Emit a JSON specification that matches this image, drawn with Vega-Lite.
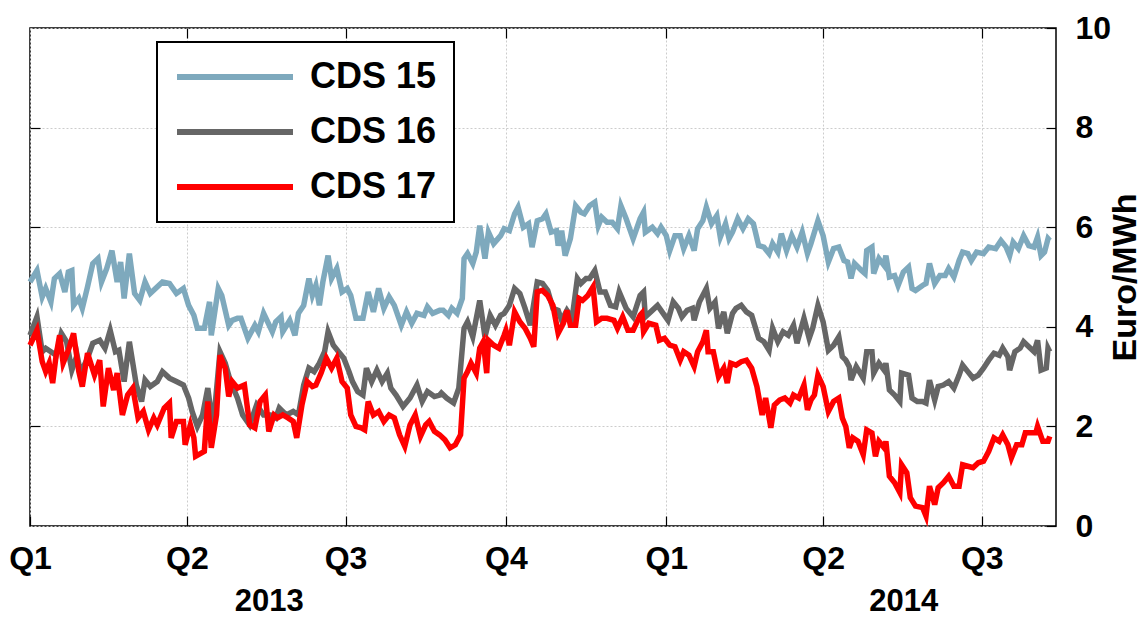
{
  "$schema": "https://vega.github.io/schema/vega-lite/v6.json",
  "width": 1026,
  "height": 498,
  "autosize": {"type": "none"},
  "padding": {"left": 30, "top": 28, "right": 85, "bottom": 93},
  "background": "white",
  "config": {
    "view": {"stroke": "black", "strokeWidth": 1.5},
    "font": "Liberation Sans",
    "legend": {"strokeWidth": 2},
    "axis": {"labelColor": "black", "titleColor": "black", "labelFont": "Liberation Sans", "titleFont": "Liberation Sans", "labelFontWeight": "bold", "titleFontWeight": "bold"}
  },
  "datasets": {
    "cds15": [
      {"date":"2013-01-01","value":4.9},{"date":"2013-01-05","value":5.13},{"date":"2013-01-08","value":4.6},{"date":"2013-01-10","value":4.77},{"date":"2013-01-13","value":4.5},{"date":"2013-01-15","value":4.97},{"date":"2013-01-18","value":5.07},{"date":"2013-01-21","value":4.7},{"date":"2013-01-23","value":5.1},{"date":"2013-01-25","value":5.13},{"date":"2013-01-26","value":4.43},{"date":"2013-01-29","value":4.57},{"date":"2013-01-31","value":4.37},{"date":"2013-02-03","value":4.8},{"date":"2013-02-06","value":5.27},{"date":"2013-02-09","value":5.37},{"date":"2013-02-11","value":4.9},{"date":"2013-02-14","value":5.17},{"date":"2013-02-17","value":5.53},{"date":"2013-02-20","value":4.9},{"date":"2013-02-22","value":5.3},{"date":"2013-02-24","value":4.57},{"date":"2013-02-27","value":5.47},{"date":"2013-03-02","value":4.67},{"date":"2013-03-05","value":4.53},{"date":"2013-03-08","value":4.9},{"date":"2013-03-11","value":4.67},{"date":"2013-03-14","value":4.77},{"date":"2013-03-18","value":4.9},{"date":"2013-03-22","value":4.87},{"date":"2013-03-26","value":4.67},{"date":"2013-03-30","value":4.77},{"date":"2013-04-02","value":4.43},{"date":"2013-04-05","value":4.23},{"date":"2013-04-07","value":3.97},{"date":"2013-04-11","value":3.97},{"date":"2013-04-14","value":4.5},{"date":"2013-04-15","value":3.83},{"date":"2013-04-19","value":4.77},{"date":"2013-04-21","value":4.63},{"date":"2013-04-25","value":4.03},{"date":"2013-04-27","value":4.13},{"date":"2013-04-30","value":4.17},{"date":"2013-05-02","value":4.17},{"date":"2013-05-06","value":3.77},{"date":"2013-05-10","value":4.03},{"date":"2013-05-12","value":3.9},{"date":"2013-05-15","value":4.27},{"date":"2013-05-20","value":3.9},{"date":"2013-05-22","value":4.1},{"date":"2013-05-25","value":4.2},{"date":"2013-05-26","value":3.9},{"date":"2013-05-30","value":4.13},{"date":"2013-06-02","value":3.83},{"date":"2013-06-04","value":4.27},{"date":"2013-06-07","value":4.43},{"date":"2013-06-10","value":4.97},{"date":"2013-06-12","value":4.63},{"date":"2013-06-14","value":4.83},{"date":"2013-06-16","value":4.43},{"date":"2013-06-18","value":4.9},{"date":"2013-06-21","value":5.43},{"date":"2013-06-23","value":4.97},{"date":"2013-06-26","value":5.17},{"date":"2013-06-29","value":4.7},{"date":"2013-07-02","value":4.77},{"date":"2013-07-04","value":4.63},{"date":"2013-07-07","value":4.17},{"date":"2013-07-11","value":4.17},{"date":"2013-07-14","value":4.7},{"date":"2013-07-17","value":4.3},{"date":"2013-07-20","value":4.77},{"date":"2013-07-23","value":4.37},{"date":"2013-07-26","value":4.6},{"date":"2013-07-29","value":4.43},{"date":"2013-08-02","value":4.03},{"date":"2013-08-05","value":4.3},{"date":"2013-08-08","value":4.07},{"date":"2013-08-11","value":4.27},{"date":"2013-08-15","value":4.23},{"date":"2013-08-17","value":4.4},{"date":"2013-08-20","value":4.27},{"date":"2013-08-24","value":4.33},{"date":"2013-08-26","value":4.33},{"date":"2013-08-29","value":4.23},{"date":"2013-08-31","value":4.37},{"date":"2013-09-03","value":4.27},{"date":"2013-09-06","value":4.57},{"date":"2013-09-07","value":5.37},{"date":"2013-09-09","value":5.47},{"date":"2013-09-12","value":5.27},{"date":"2013-09-14","value":5.5},{"date":"2013-09-16","value":6.03},{"date":"2013-09-19","value":5.37},{"date":"2013-09-21","value":5.9},{"date":"2013-09-24","value":5.67},{"date":"2013-09-28","value":5.83},{"date":"2013-09-30","value":5.97},{"date":"2013-10-03","value":5.93},{"date":"2013-10-06","value":6.27},{"date":"2013-10-08","value":6.4},{"date":"2013-10-11","value":6.0},{"date":"2013-10-14","value":6.07},{"date":"2013-10-16","value":5.6},{"date":"2013-10-19","value":6.13},{"date":"2013-10-22","value":6.17},{"date":"2013-10-24","value":6.27},{"date":"2013-10-27","value":5.9},{"date":"2013-10-30","value":5.93},{"date":"2013-10-31","value":5.63},{"date":"2013-11-02","value":5.93},{"date":"2013-11-04","value":5.43},{"date":"2013-11-07","value":5.77},{"date":"2013-11-10","value":6.43},{"date":"2013-11-13","value":6.3},{"date":"2013-11-15","value":6.27},{"date":"2013-11-18","value":6.43},{"date":"2013-11-21","value":6.5},{"date":"2013-11-23","value":6.03},{"date":"2013-11-25","value":6.2},{"date":"2013-11-28","value":6.1},{"date":"2013-12-01","value":6.1},{"date":"2013-12-04","value":5.97},{"date":"2013-12-06","value":6.43},{"date":"2013-12-09","value":6.17},{"date":"2013-12-13","value":5.77},{"date":"2013-12-17","value":6.17},{"date":"2013-12-19","value":6.3},{"date":"2013-12-20","value":5.9},{"date":"2013-12-24","value":6.0},{"date":"2013-12-27","value":5.87},{"date":"2013-12-29","value":6.0},{"date":"2014-01-01","value":5.83},{"date":"2014-01-03","value":5.53},{"date":"2014-01-06","value":5.83},{"date":"2014-01-09","value":5.83},{"date":"2014-01-11","value":5.57},{"date":"2014-01-14","value":5.83},{"date":"2014-01-17","value":5.53},{"date":"2014-01-19","value":5.97},{"date":"2014-01-22","value":6.13},{"date":"2014-01-24","value":6.4},{"date":"2014-01-27","value":6.07},{"date":"2014-01-30","value":6.23},{"date":"2014-02-01","value":5.8},{"date":"2014-02-04","value":6.07},{"date":"2014-02-06","value":5.77},{"date":"2014-02-08","value":5.9},{"date":"2014-02-11","value":6.17},{"date":"2014-02-14","value":5.97},{"date":"2014-02-17","value":6.17},{"date":"2014-02-20","value":6.07},{"date":"2014-02-23","value":5.63},{"date":"2014-02-26","value":5.6},{"date":"2014-03-01","value":5.47},{"date":"2014-03-03","value":5.67},{"date":"2014-03-06","value":5.5},{"date":"2014-03-08","value":5.87},{"date":"2014-03-11","value":5.53},{"date":"2014-03-14","value":5.83},{"date":"2014-03-17","value":5.6},{"date":"2014-03-20","value":5.9},{"date":"2014-03-23","value":5.47},{"date":"2014-03-25","value":5.67},{"date":"2014-03-29","value":6.13},{"date":"2014-04-01","value":5.83},{"date":"2014-04-04","value":5.3},{"date":"2014-04-07","value":5.57},{"date":"2014-04-10","value":5.6},{"date":"2014-04-13","value":5.33},{"date":"2014-04-15","value":5.3},{"date":"2014-04-17","value":4.97},{"date":"2014-04-19","value":5.27},{"date":"2014-04-23","value":5.13},{"date":"2014-04-25","value":5.07},{"date":"2014-04-26","value":5.53},{"date":"2014-04-29","value":5.6},{"date":"2014-04-30","value":5.07},{"date":"2014-05-03","value":5.37},{"date":"2014-05-06","value":5.23},{"date":"2014-05-07","value":5.43},{"date":"2014-05-09","value":5.0},{"date":"2014-05-12","value":5.03},{"date":"2014-05-14","value":4.83},{"date":"2014-05-17","value":5.1},{"date":"2014-05-20","value":5.2},{"date":"2014-05-22","value":4.77},{"date":"2014-05-24","value":4.73},{"date":"2014-05-28","value":4.83},{"date":"2014-05-30","value":4.87},{"date":"2014-06-01","value":5.27},{"date":"2014-06-04","value":4.87},{"date":"2014-06-07","value":5.03},{"date":"2014-06-10","value":5.03},{"date":"2014-06-12","value":5.17},{"date":"2014-06-15","value":5.0},{"date":"2014-06-18","value":5.33},{"date":"2014-06-20","value":5.5},{"date":"2014-06-23","value":5.47},{"date":"2014-06-25","value":5.33},{"date":"2014-06-28","value":5.5},{"date":"2014-07-02","value":5.47},{"date":"2014-07-05","value":5.6},{"date":"2014-07-09","value":5.57},{"date":"2014-07-12","value":5.73},{"date":"2014-07-15","value":5.6},{"date":"2014-07-17","value":5.43},{"date":"2014-07-19","value":5.7},{"date":"2014-07-22","value":5.57},{"date":"2014-07-25","value":5.83},{"date":"2014-07-28","value":5.63},{"date":"2014-07-31","value":5.6},{"date":"2014-08-02","value":5.8},{"date":"2014-08-04","value":5.43},{"date":"2014-08-06","value":5.5},{"date":"2014-08-08","value":5.77},{"date":"2014-08-09","value":5.73}
    ],
    "cds16": [
      {"date":"2013-01-01","value":3.83},{"date":"2013-01-05","value":4.2},{"date":"2013-01-08","value":3.5},{"date":"2013-01-10","value":3.57},{"date":"2013-01-13","value":3.5},{"date":"2013-01-16","value":3.43},{"date":"2013-01-19","value":3.87},{"date":"2013-01-22","value":3.7},{"date":"2013-01-25","value":3.13},{"date":"2013-01-28","value":3.43},{"date":"2013-01-30","value":3.07},{"date":"2013-02-03","value":3.37},{"date":"2013-02-06","value":3.67},{"date":"2013-02-10","value":3.73},{"date":"2013-02-13","value":3.57},{"date":"2013-02-16","value":3.93},{"date":"2013-02-19","value":3.5},{"date":"2013-02-21","value":3.53},{"date":"2013-02-24","value":2.9},{"date":"2013-02-27","value":3.7},{"date":"2013-03-03","value":2.83},{"date":"2013-03-06","value":2.5},{"date":"2013-03-08","value":2.93},{"date":"2013-03-11","value":2.8},{"date":"2013-03-15","value":2.9},{"date":"2013-03-18","value":3.1},{"date":"2013-03-22","value":2.97},{"date":"2013-03-26","value":2.9},{"date":"2013-03-30","value":2.83},{"date":"2013-04-02","value":2.57},{"date":"2013-04-04","value":2.3},{"date":"2013-04-07","value":2.0},{"date":"2013-04-10","value":2.23},{"date":"2013-04-13","value":2.77},{"date":"2013-04-16","value":1.97},{"date":"2013-04-20","value":3.5},{"date":"2013-04-23","value":3.27},{"date":"2013-04-26","value":2.9},{"date":"2013-04-30","value":2.57},{"date":"2013-05-03","value":2.23},{"date":"2013-05-07","value":2.03},{"date":"2013-05-11","value":2.43},{"date":"2013-05-15","value":2.23},{"date":"2013-05-19","value":2.23},{"date":"2013-05-22","value":2.17},{"date":"2013-05-24","value":2.37},{"date":"2013-05-28","value":2.23},{"date":"2013-06-01","value":2.3},{"date":"2013-06-04","value":2.23},{"date":"2013-06-07","value":2.83},{"date":"2013-06-10","value":3.17},{"date":"2013-06-13","value":3.1},{"date":"2013-06-16","value":3.27},{"date":"2013-06-19","value":3.5},{"date":"2013-06-21","value":3.9},{"date":"2013-06-24","value":3.63},{"date":"2013-06-27","value":3.5},{"date":"2013-06-30","value":3.37},{"date":"2013-07-03","value":3.1},{"date":"2013-07-05","value":2.9},{"date":"2013-07-08","value":2.7},{"date":"2013-07-11","value":2.63},{"date":"2013-07-13","value":3.17},{"date":"2013-07-16","value":2.9},{"date":"2013-07-19","value":3.13},{"date":"2013-07-22","value":2.9},{"date":"2013-07-25","value":3.07},{"date":"2013-07-27","value":2.77},{"date":"2013-07-30","value":2.63},{"date":"2013-08-03","value":2.4},{"date":"2013-08-07","value":2.57},{"date":"2013-08-11","value":2.83},{"date":"2013-08-14","value":2.5},{"date":"2013-08-17","value":2.7},{"date":"2013-08-21","value":2.6},{"date":"2013-08-24","value":2.63},{"date":"2013-08-25","value":2.67},{"date":"2013-08-28","value":2.57},{"date":"2013-09-01","value":2.47},{"date":"2013-09-04","value":2.77},{"date":"2013-09-07","value":3.97},{"date":"2013-09-09","value":4.1},{"date":"2013-09-12","value":3.8},{"date":"2013-09-16","value":4.53},{"date":"2013-09-19","value":3.8},{"date":"2013-09-22","value":4.23},{"date":"2013-09-25","value":4.03},{"date":"2013-09-28","value":4.23},{"date":"2013-09-30","value":4.27},{"date":"2013-10-03","value":4.43},{"date":"2013-10-06","value":4.77},{"date":"2013-10-09","value":4.67},{"date":"2013-10-12","value":4.37},{"date":"2013-10-15","value":4.03},{"date":"2013-10-19","value":4.9},{"date":"2013-10-22","value":4.87},{"date":"2013-10-25","value":4.73},{"date":"2013-10-28","value":4.37},{"date":"2013-10-31","value":4.33},{"date":"2013-11-02","value":4.13},{"date":"2013-11-05","value":4.33},{"date":"2013-11-08","value":4.17},{"date":"2013-11-11","value":4.97},{"date":"2013-11-13","value":4.87},{"date":"2013-11-16","value":4.97},{"date":"2013-11-18","value":4.97},{"date":"2013-11-21","value":5.13},{"date":"2013-11-24","value":4.7},{"date":"2013-11-27","value":4.7},{"date":"2013-11-30","value":4.43},{"date":"2013-12-03","value":4.4},{"date":"2013-12-05","value":4.7},{"date":"2013-12-09","value":4.37},{"date":"2013-12-13","value":4.2},{"date":"2013-12-17","value":4.63},{"date":"2013-12-19","value":4.7},{"date":"2013-12-20","value":4.2},{"date":"2013-12-24","value":4.33},{"date":"2013-12-27","value":4.43},{"date":"2013-12-29","value":4.33},{"date":"2014-01-02","value":4.13},{"date":"2014-01-05","value":4.5},{"date":"2014-01-08","value":4.37},{"date":"2014-01-10","value":4.2},{"date":"2014-01-13","value":4.33},{"date":"2014-01-16","value":4.37},{"date":"2014-01-17","value":4.13},{"date":"2014-01-20","value":4.5},{"date":"2014-01-24","value":4.77},{"date":"2014-01-26","value":4.37},{"date":"2014-01-29","value":4.5},{"date":"2014-01-31","value":3.97},{"date":"2014-02-03","value":4.3},{"date":"2014-02-05","value":3.87},{"date":"2014-02-08","value":4.27},{"date":"2014-02-10","value":4.37},{"date":"2014-02-13","value":4.43},{"date":"2014-02-16","value":4.3},{"date":"2014-02-19","value":4.23},{"date":"2014-02-23","value":3.77},{"date":"2014-02-26","value":3.7},{"date":"2014-03-01","value":3.53},{"date":"2014-03-03","value":3.97},{"date":"2014-03-06","value":3.7},{"date":"2014-03-09","value":3.9},{"date":"2014-03-12","value":3.83},{"date":"2014-03-15","value":4.03},{"date":"2014-03-17","value":3.67},{"date":"2014-03-21","value":4.17},{"date":"2014-03-24","value":3.77},{"date":"2014-03-26","value":3.97},{"date":"2014-03-29","value":4.43},{"date":"2014-04-01","value":4.1},{"date":"2014-04-04","value":3.53},{"date":"2014-04-07","value":3.63},{"date":"2014-04-10","value":3.8},{"date":"2014-04-12","value":3.4},{"date":"2014-04-14","value":3.33},{"date":"2014-04-16","value":3.2},{"date":"2014-04-17","value":2.93},{"date":"2014-04-20","value":3.2},{"date":"2014-04-24","value":2.97},{"date":"2014-04-26","value":3.5},{"date":"2014-04-29","value":3.5},{"date":"2014-04-30","value":3.07},{"date":"2014-05-03","value":3.27},{"date":"2014-05-06","value":3.13},{"date":"2014-05-07","value":3.27},{"date":"2014-05-09","value":2.73},{"date":"2014-05-12","value":2.63},{"date":"2014-05-15","value":2.5},{"date":"2014-05-16","value":3.07},{"date":"2014-05-20","value":3.03},{"date":"2014-05-22","value":2.57},{"date":"2014-05-25","value":2.5},{"date":"2014-05-28","value":2.5},{"date":"2014-05-30","value":2.47},{"date":"2014-06-01","value":2.93},{"date":"2014-06-04","value":2.53},{"date":"2014-06-06","value":2.8},{"date":"2014-06-09","value":2.83},{"date":"2014-06-12","value":2.9},{"date":"2014-06-15","value":2.77},{"date":"2014-06-18","value":3.03},{"date":"2014-06-20","value":3.23},{"date":"2014-06-23","value":3.1},{"date":"2014-06-26","value":2.97},{"date":"2014-06-29","value":3.03},{"date":"2014-07-02","value":3.17},{"date":"2014-07-05","value":3.33},{"date":"2014-07-08","value":3.47},{"date":"2014-07-11","value":3.43},{"date":"2014-07-13","value":3.57},{"date":"2014-07-16","value":3.4},{"date":"2014-07-17","value":3.13},{"date":"2014-07-20","value":3.5},{"date":"2014-07-23","value":3.57},{"date":"2014-07-25","value":3.7},{"date":"2014-07-28","value":3.6},{"date":"2014-07-31","value":3.5},{"date":"2014-08-02","value":3.73},{"date":"2014-08-04","value":3.13},{"date":"2014-08-07","value":3.17},{"date":"2014-08-08","value":3.57},{"date":"2014-08-09","value":3.5}
    ],
    "cds17": [
      {"date":"2013-01-01","value":3.63},{"date":"2013-01-05","value":3.93},{"date":"2013-01-08","value":3.3},{"date":"2013-01-10","value":3.1},{"date":"2013-01-12","value":3.27},{"date":"2013-01-14","value":2.87},{"date":"2013-01-16","value":3.43},{"date":"2013-01-18","value":3.83},{"date":"2013-01-20","value":3.27},{"date":"2013-01-23","value":3.53},{"date":"2013-01-26","value":3.87},{"date":"2013-01-29","value":3.1},{"date":"2013-01-31","value":2.8},{"date":"2013-02-03","value":3.47},{"date":"2013-02-07","value":3.03},{"date":"2013-02-10","value":3.33},{"date":"2013-02-12","value":2.4},{"date":"2013-02-15","value":3.17},{"date":"2013-02-18","value":2.73},{"date":"2013-02-20","value":3.07},{"date":"2013-02-23","value":2.23},{"date":"2013-02-26","value":2.63},{"date":"2013-03-01","value":2.77},{"date":"2013-03-04","value":2.17},{"date":"2013-03-07","value":2.3},{"date":"2013-03-10","value":1.93},{"date":"2013-03-13","value":2.17},{"date":"2013-03-15","value":2.03},{"date":"2013-03-19","value":2.37},{"date":"2013-03-22","value":2.47},{"date":"2013-03-23","value":1.77},{"date":"2013-03-26","value":2.1},{"date":"2013-03-30","value":2.1},{"date":"2013-03-31","value":1.63},{"date":"2013-04-03","value":2.03},{"date":"2013-04-05","value":1.77},{"date":"2013-04-06","value":1.4},{"date":"2013-04-11","value":1.5},{"date":"2013-04-13","value":2.5},{"date":"2013-04-15","value":1.57},{"date":"2013-04-18","value":2.23},{"date":"2013-04-20","value":3.43},{"date":"2013-04-23","value":3.17},{"date":"2013-04-25","value":2.6},{"date":"2013-04-27","value":2.9},{"date":"2013-04-30","value":2.77},{"date":"2013-05-04","value":2.83},{"date":"2013-05-07","value":2.03},{"date":"2013-05-10","value":1.97},{"date":"2013-05-13","value":2.5},{"date":"2013-05-16","value":2.63},{"date":"2013-05-18","value":1.9},{"date":"2013-05-21","value":2.23},{"date":"2013-05-23","value":2.17},{"date":"2013-05-26","value":2.23},{"date":"2013-05-29","value":2.17},{"date":"2013-06-01","value":2.1},{"date":"2013-06-03","value":1.77},{"date":"2013-06-06","value":2.43},{"date":"2013-06-09","value":2.9},{"date":"2013-06-12","value":2.8},{"date":"2013-06-14","value":2.83},{"date":"2013-06-17","value":3.07},{"date":"2013-06-20","value":3.37},{"date":"2013-06-23","value":3.17},{"date":"2013-06-26","value":3.37},{"date":"2013-06-29","value":2.9},{"date":"2013-07-02","value":2.77},{"date":"2013-07-04","value":2.23},{"date":"2013-07-07","value":2.0},{"date":"2013-07-10","value":1.97},{"date":"2013-07-12","value":1.93},{"date":"2013-07-14","value":2.5},{"date":"2013-07-17","value":2.23},{"date":"2013-07-20","value":2.3},{"date":"2013-07-23","value":2.1},{"date":"2013-07-26","value":2.23},{"date":"2013-07-29","value":2.17},{"date":"2013-08-01","value":1.83},{"date":"2013-08-04","value":1.6},{"date":"2013-08-07","value":2.03},{"date":"2013-08-10","value":2.23},{"date":"2013-08-13","value":1.8},{"date":"2013-08-16","value":2.03},{"date":"2013-08-18","value":2.1},{"date":"2013-08-21","value":1.9},{"date":"2013-08-24","value":1.83},{"date":"2013-08-27","value":1.73},{"date":"2013-08-30","value":1.57},{"date":"2013-09-02","value":1.63},{"date":"2013-09-05","value":1.83},{"date":"2013-09-07","value":2.97},{"date":"2013-09-09","value":3.1},{"date":"2013-09-11","value":3.27},{"date":"2013-09-14","value":3.07},{"date":"2013-09-16","value":3.57},{"date":"2013-09-18","value":3.7},{"date":"2013-09-20","value":3.07},{"date":"2013-09-21","value":3.73},{"date":"2013-09-24","value":3.63},{"date":"2013-09-27","value":3.57},{"date":"2013-09-30","value":3.83},{"date":"2013-10-01","value":3.93},{"date":"2013-10-03","value":3.63},{"date":"2013-10-06","value":4.3},{"date":"2013-10-09","value":4.1},{"date":"2013-10-12","value":3.97},{"date":"2013-10-15","value":3.77},{"date":"2013-10-17","value":3.6},{"date":"2013-10-19","value":4.7},{"date":"2013-10-22","value":4.73},{"date":"2013-10-25","value":4.63},{"date":"2013-10-28","value":4.43},{"date":"2013-10-31","value":3.87},{"date":"2013-11-03","value":4.07},{"date":"2013-11-05","value":4.33},{"date":"2013-11-07","value":4.03},{"date":"2013-11-10","value":4.03},{"date":"2013-11-12","value":4.57},{"date":"2013-11-14","value":4.53},{"date":"2013-11-17","value":4.63},{"date":"2013-11-20","value":4.8},{"date":"2013-11-22","value":4.1},{"date":"2013-11-25","value":4.17},{"date":"2013-11-28","value":4.17},{"date":"2013-12-02","value":4.13},{"date":"2013-12-04","value":3.97},{"date":"2013-12-07","value":4.2},{"date":"2013-12-10","value":3.93},{"date":"2013-12-13","value":3.93},{"date":"2013-12-17","value":4.23},{"date":"2013-12-18","value":4.27},{"date":"2013-12-19","value":3.9},{"date":"2013-12-22","value":4.07},{"date":"2013-12-26","value":4.03},{"date":"2013-12-28","value":3.73},{"date":"2013-12-31","value":3.77},{"date":"2014-01-03","value":3.63},{"date":"2014-01-06","value":3.6},{"date":"2014-01-09","value":3.33},{"date":"2014-01-11","value":3.5},{"date":"2014-01-14","value":3.43},{"date":"2014-01-17","value":3.2},{"date":"2014-01-19","value":3.5},{"date":"2014-01-22","value":3.7},{"date":"2014-01-24","value":3.93},{"date":"2014-01-25","value":3.5},{"date":"2014-01-28","value":3.5},{"date":"2014-01-31","value":3.0},{"date":"2014-02-03","value":3.17},{"date":"2014-02-05","value":2.87},{"date":"2014-02-07","value":3.27},{"date":"2014-02-10","value":3.23},{"date":"2014-02-13","value":3.3},{"date":"2014-02-16","value":3.33},{"date":"2014-02-19","value":3.17},{"date":"2014-02-22","value":2.8},{"date":"2014-02-25","value":2.23},{"date":"2014-02-27","value":2.57},{"date":"2014-03-02","value":1.97},{"date":"2014-03-04","value":2.43},{"date":"2014-03-07","value":2.53},{"date":"2014-03-10","value":2.57},{"date":"2014-03-13","value":2.47},{"date":"2014-03-15","value":2.63},{"date":"2014-03-18","value":2.57},{"date":"2014-03-21","value":2.83},{"date":"2014-03-23","value":2.33},{"date":"2014-03-25","value":2.53},{"date":"2014-03-27","value":2.63},{"date":"2014-03-29","value":3.03},{"date":"2014-04-01","value":2.8},{"date":"2014-04-04","value":2.3},{"date":"2014-04-07","value":2.5},{"date":"2014-04-10","value":2.57},{"date":"2014-04-12","value":2.17},{"date":"2014-04-14","value":2.0},{"date":"2014-04-16","value":1.57},{"date":"2014-04-18","value":1.77},{"date":"2014-04-21","value":1.7},{"date":"2014-04-24","value":1.43},{"date":"2014-04-26","value":1.93},{"date":"2014-04-29","value":1.87},{"date":"2014-05-01","value":1.4},{"date":"2014-05-03","value":1.7},{"date":"2014-05-06","value":1.57},{"date":"2014-05-07","value":1.7},{"date":"2014-05-09","value":1.0},{"date":"2014-05-12","value":0.87},{"date":"2014-05-15","value":0.67},{"date":"2014-05-16","value":1.23},{"date":"2014-05-19","value":1.07},{"date":"2014-05-21","value":0.57},{"date":"2014-05-24","value":0.4},{"date":"2014-05-28","value":0.37},{"date":"2014-05-30","value":0.2},{"date":"2014-06-01","value":0.8},{"date":"2014-06-04","value":0.43},{"date":"2014-06-06","value":0.77},{"date":"2014-06-09","value":0.87},{"date":"2014-06-12","value":1.0},{"date":"2014-06-15","value":0.8},{"date":"2014-06-18","value":0.8},{"date":"2014-06-20","value":1.23},{"date":"2014-06-23","value":1.2},{"date":"2014-06-26","value":1.17},{"date":"2014-06-29","value":1.27},{"date":"2014-07-02","value":1.3},{"date":"2014-07-05","value":1.5},{"date":"2014-07-08","value":1.77},{"date":"2014-07-11","value":1.7},{"date":"2014-07-13","value":1.83},{"date":"2014-07-16","value":1.63},{"date":"2014-07-18","value":1.37},{"date":"2014-07-21","value":1.63},{"date":"2014-07-24","value":1.63},{"date":"2014-07-26","value":1.87},{"date":"2014-07-29","value":1.87},{"date":"2014-08-01","value":1.87},{"date":"2014-08-02","value":2.0},{"date":"2014-08-05","value":1.7},{"date":"2014-08-08","value":1.7},{"date":"2014-08-09","value":1.8}
    ],
    "years": [
      {"date":"2013-05-18","label":"2013"},
      {"date":"2014-05-17","label":"2014"}
    ]
  },
  "resolve": {"axis": {"x": "independent", "y": "independent"}},
  "layer": [
    {
      "layer": [
        {
          "data": {"name": "cds15"},
          "mark": {"type": "line", "strokeWidth": 5.5},
          "encoding": {
            "x": {"field": "date", "type": "temporal",
              "scale": {"type": "utc", "domain": [{"year":2013,"month":1,"date":1,"utc":true},{"year":2014,"month":8,"date":12,"hours":14,"utc":true}]},
              "axis": {"orient": "bottom", "title": null,
                "values": [{"year":2013,"month":1,"date":1,"utc":true},{"year":2013,"month":4,"date":1,"utc":true},{"year":2013,"month":7,"date":1,"utc":true},{"year":2013,"month":10,"date":1,"utc":true},{"year":2014,"month":1,"date":1,"utc":true},{"year":2014,"month":4,"date":1,"utc":true},{"year":2014,"month":7,"date":1,"utc":true}],
                "labelExpr": "utcFormat(datum.value, 'Q%q')",
                "labelFontSize": 32, "labelPadding": 27, "labelFlush": false, "labelOverlap": false,
                "tickSize": -10, "tickColor": "black", "tickWidth": 1.2,
                "domain": false, "grid": true, "gridColor": "#cccccc", "gridDash": [2, 2], "gridWidth": 1}},
            "y": {"field": "value", "type": "quantitative",
              "scale": {"domain": [0, 10], "nice": false, "zero": false},
              "axis": {"orient": "right", "values": [0, 2, 4, 6, 8, 10], "title": "Euro/MWh",
                "labelFontSize": 32, "labelPadding": 29, "labelFlush": false, "labelOverlap": false,
                "tickSize": -10, "tickColor": "black", "tickWidth": 1.2,
                "domain": false, "grid": true, "gridColor": "#cccccc", "gridDash": [2, 2], "gridWidth": 1,
                "titleFontSize": 34, "titleAngle": 270, "titleX": 69, "titleY": 249, "titleAlign": "center", "titleBaseline": "middle"}},
            "color": {"datum": "CDS 15", "type": "nominal",
              "scale": {"domain": ["CDS 15", "CDS 16", "CDS 17"], "range": ["#7ea9bd", "#666666", "#ff0000"]},
              "legend": {"orient": "none", "legendX": 127, "legendY": 14, "title": null,
                "symbolType": "M-1.5,0H10.1", "symbolSize": 400, "symbolStrokeWidth": 6,
                "labelFontSize": 36, "labelFontWeight": "bold", "labelFont": "Liberation Sans", "labelColor": "black",
                "labelOffset": 100, "padding": 17, "rowPadding": 19,
                "strokeColor": "black", "fillColor": "white"}}
          }
        },
        {
          "data": {"name": "cds16"},
          "mark": {"type": "line", "strokeWidth": 5.5},
          "encoding": {
            "x": {"field": "date", "type": "temporal"},
            "y": {"field": "value", "type": "quantitative"},
            "color": {"datum": "CDS 16", "type": "nominal"}
          }
        },
        {
          "data": {"name": "cds17"},
          "mark": {"type": "line", "strokeWidth": 5.5},
          "encoding": {
            "x": {"field": "date", "type": "temporal"},
            "y": {"field": "value", "type": "quantitative"},
            "color": {"datum": "CDS 17", "type": "nominal"}
          }
        }
      ]
    },
    {
      "data": {"name": "years"},
      "mark": {"type": "rule", "opacity": 0},
      "encoding": {
        "x": {"field": "date", "type": "temporal",
          "axis": {"orient": "bottom", "title": null,
            "values": [{"year":2013,"month":5,"date":18,"utc":true},{"year":2014,"month":5,"date":17,"utc":true}],
            "labelExpr": "utcFormat(datum.value, '%Y')",
            "labelFontSize": 31, "labelPadding": 60, "labelFlush": false, "labelOverlap": false,
            "ticks": false, "domain": false, "grid": false}}
      }
    },
    {
      "data": {"name": "cds15"},
      "mark": {"type": "line", "opacity": 0},
      "encoding": {
        "x": {"field": "date", "type": "temporal",
          "axis": {"orient": "top", "title": null, "labels": false,
            "values": [{"year":2013,"month":4,"date":1,"utc":true},{"year":2013,"month":7,"date":1,"utc":true},{"year":2013,"month":10,"date":1,"utc":true},{"year":2014,"month":1,"date":1,"utc":true},{"year":2014,"month":4,"date":1,"utc":true},{"year":2014,"month":7,"date":1,"utc":true}],
            "tickSize": -10, "tickColor": "black", "tickWidth": 1.2, "domain": false, "grid": false}},
        "y": {"field": "value", "type": "quantitative",
          "axis": {"orient": "left", "title": null, "labels": false, "values": [2, 4, 6, 8],
            "tickSize": -10, "tickColor": "black", "tickWidth": 1.2, "domain": false, "grid": false}}
      }
    }
  ]
}
